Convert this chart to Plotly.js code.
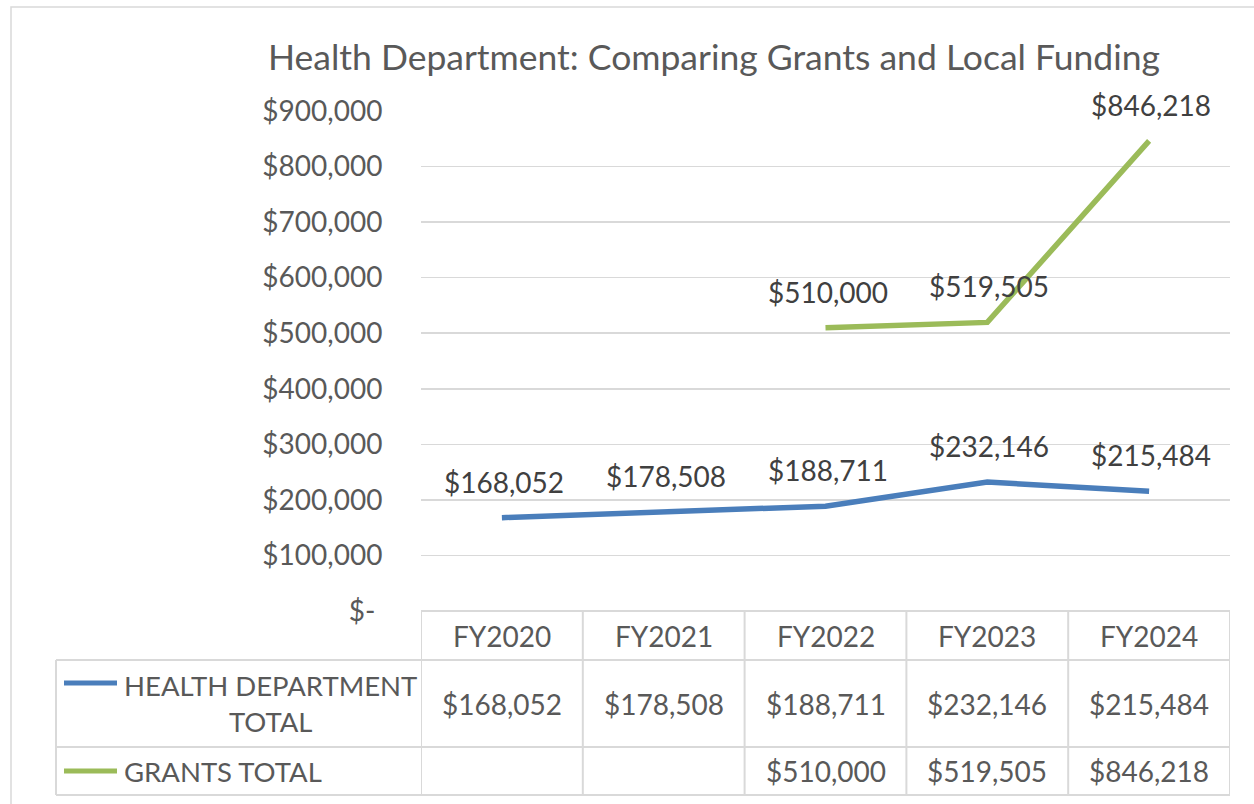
<!DOCTYPE html>
<html>
<head>
<meta charset="utf-8">
<script src="https://cdn.plot.ly/plotly-3.0.1.min.js"></script>
<style>
  html, body { margin: 0; padding: 0; background: #ffffff; }
  #chart { width: 1254px; height: 804px; }
</style>
</head>
<body>
<div id="chart"></div>
<script>
// ---- Data ----
const categories = ["FY2020", "FY2021", "FY2022", "FY2023", "FY2024"];
const healthDept = [168052, 178508, 188711, 232146, 215484];
const grants = [null, null, 510000, 519505, 846218];
const seriesNames = ["HEALTH DEPARTMENT<br>TOTAL", "GRANTS TOTAL"];
const tickValues = [0, 100000, 200000, 300000, 400000, 500000, 600000, 700000, 800000, 900000];
const tickLabels = ["$-\u2009\u2009", "$100,000", "$200,000", "$300,000", "$400,000", "$500,000",
                    "$600,000", "$700,000", "$800,000", "$900,000"];

// ---- Style ----
const FONT = "Lato, 'Open Sans', sans-serif";
const TEXT = "#595959";
const LABEL = "#404040";
const GRID = "#d9d9d9";
const BLUE = "#4a7ebb";
const GREEN = "#9bbb59";

// Plot area geometry (pixels)
const W = 1254, H = 804;
const L = 421, R = 1230, T = 111, B = 611;
const pw = R - L, ph = B - T;
const px = v => (v - L) / pw;         // pixel x -> paper x
const py = v => (B - v) / ph;         // pixel y -> paper y

// Table rows (pixel y)
const rowTop = 611, rowHead = 660, row1 = 747, row2 = 795;
const legendLeft = 56;

const fmt = v => "$" + v.toLocaleString("en-US");

const traces = [
  { x: categories, y: healthDept, type: "scatter", mode: "lines", name: "Health",
    line: { color: BLUE, width: 5.5 }, hoverinfo: "skip", connectgaps: false },
  { x: categories, y: grants, type: "scatter", mode: "lines", name: "Grants",
    line: { color: GREEN, width: 5.5 }, hoverinfo: "skip", connectgaps: false }
];

const annotations = [];
const shapes = [];

// Data labels
[healthDept, grants].forEach(series => {
  series.forEach((v, i) => {
    if (v === null) return;
    annotations.push({ x: categories[i], y: v, xref: "x", yref: "y", text: fmt(v),
      showarrow: false, yanchor: "middle", yshift: 36, xshift: 2,
      font: { family: FONT, size: 28, color: LABEL } });
  });
});

// Table: header & values
const rowCenters = [(rowTop + rowHead) / 2, (rowHead + row1) / 2, (row1 + row2) / 2];
categories.forEach((c, i) => {
  annotations.push({ x: c, y: py(rowCenters[0]), xref: "x", yref: "paper", text: c,
    showarrow: false, yanchor: "middle", font: { family: FONT, size: 28, color: TEXT } });
  [healthDept, grants].forEach((s, k) => {
    if (s[i] === null) return;
    annotations.push({ x: c, y: py(rowCenters[k + 1]), xref: "x", yref: "paper", text: fmt(s[i]),
      showarrow: false, yanchor: "middle", font: { family: FONT, size: 28, color: TEXT } });
  });
});

// Legend keys inside table
const legendColors = [BLUE, GREEN];
const legendLineY = [683, 771];
seriesNames.forEach((n, k) => {
  annotations.push({ x: px(122), y: py(rowCenters[k + 1]), xref: "paper", yref: "paper", text: n,
    showarrow: false, xanchor: "left", yanchor: "middle", align: "center",
    font: { family: FONT, size: 27.5, color: TEXT } });
  shapes.push({ type: "line", xref: "paper", yref: "paper", x0: px(64), x1: px(117),
    y0: py(legendLineY[k]), y1: py(legendLineY[k]), line: { color: legendColors[k], width: 5 } });
});

// Table grid lines
const gl = { color: GRID, width: 2 };
shapes.push({ type: "line", xref: "paper", yref: "paper", x0: 0, x1: 1, y0: py(rowTop), y1: py(rowTop), line: gl });
[rowHead, row1, row2].forEach(yv => {
  shapes.push({ type: "line", xref: "paper", yref: "paper", x0: px(legendLeft), x1: 1, y0: py(yv), y1: py(yv), line: gl });
});
for (let i = 0; i <= categories.length; i++) {
  shapes.push({ type: "line", xref: "x", yref: "paper", x0: i - 0.5, x1: i - 0.5,
    y0: py(rowTop), y1: py(row2), line: gl });
}
shapes.push({ type: "line", xref: "paper", yref: "paper", x0: px(legendLeft), x1: px(legendLeft),
  y0: py(rowHead), y1: py(row2), line: gl });

// Outer chart border
shapes.push({ type: "rect", xref: "paper", yref: "paper", x0: px(11), x1: px(1260), y0: py(810), y1: py(7),
  line: { color: GRID, width: 1.5 }, fillcolor: "rgba(0,0,0,0)", layer: "below" });

const layout = {
  width: W, height: H,
  margin: { l: L, r: W - R, t: T, b: H - B, pad: 0 },
  paper_bgcolor: "#ffffff", plot_bgcolor: "#ffffff",
  showlegend: false,
  title: { text: "Health Department: Comparing Grants and Local Funding",
    font: { family: FONT, size: 35.5, color: TEXT },
    x: px(714), xanchor: "center", xref: "paper", y: 1 - 58 / H, yanchor: "middle" },
  xaxis: { type: "category", range: [-0.5, categories.length - 0.5], showgrid: false,
    showticklabels: false, ticks: "", zeroline: false, showline: false, fixedrange: true },
  yaxis: { range: [0, 900000], tickvals: tickValues, ticktext: tickLabels,
    showgrid: true, gridcolor: GRID, gridwidth: 1.5, zeroline: false, showline: false,
    ticks: "outside", ticklen: 32, tickcolor: "rgba(0,0,0,0)",
    tickfont: { family: FONT, size: 28, color: TEXT }, fixedrange: true },
  annotations: annotations,
  shapes: shapes,
  font: { family: FONT, color: TEXT }
};

Plotly.newPlot("chart", traces, layout, { displayModeBar: false, staticPlot: true });
</script>
</body>
</html>
